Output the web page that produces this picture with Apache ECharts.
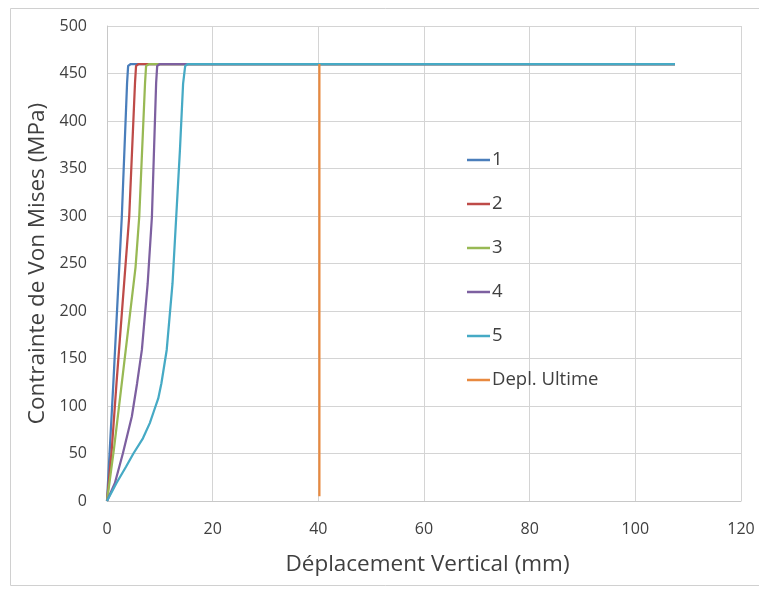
<!DOCTYPE html>
<html>
<head>
<meta charset="utf-8">
<script src="https://cdn.jsdelivr.net/npm/echarts@6/dist/echarts.min.js"></script>
<style>html,body{margin:0;padding:0;background:#fff;}#c{width:759px;height:590px;}</style>
</head>
<body>
<div id="c"></div>
<script>
var seriesNames = ['1', '2', '3', '4', '5', 'Depl. Ultime'];
var s1x = [0, 1.2, 2.8, 3.8, 4.0, 4.5, 107.5];
var s1y = [0, 124, 299, 440, 458, 460, 460];
var s2x = [0, 0.9, 1.8, 4.2, 5.3, 5.5, 6.0, 107.5];
var s2y = [0, 54, 124, 299, 440, 458, 460, 460];
var s3x = [0, 1.3, 2.8, 5.4, 6.1, 7.2, 7.4, 8.0, 107.5];
var s3y = [0, 54, 124, 246, 299, 440, 458, 460, 460];
var s4x = [0, 1.5, 3.0, 4.7, 5.7, 6.6, 7.7, 8.5, 9.3, 9.5, 10.0, 107.5];
var s4y = [0, 19, 50, 89, 124, 159, 229, 299, 440, 458, 460, 460];
var s5x = [0, 1.8, 3.6, 5.0, 6.8, 8.1, 8.9, 9.7, 10.3, 11.3, 12.4, 13.1, 13.8, 14.4, 14.8, 15.3, 107.5];
var s5y = [0, 19, 36, 50, 66, 82, 95, 108, 124, 159, 229, 299, 369, 439, 458, 460, 460];
var s6x = [40.2, 40.2];
var s6y = [5, 460];
var xTicks = [0, 20, 40, 60, 80, 100, 120];
var yTicks = [0, 50, 100, 150, 200, 250, 300, 350, 400, 450, 500];
var colors = ['#4A7EBB', '#BE4B48', '#98B954', '#7D60A0', '#46AAC5', '#E8893F'];

function pairs(xs, ys) { return xs.map(function (x, i) { return [x, ys[i]]; }); }
var allX = [s1x, s2x, s3x, s4x, s5x, s6x];
var allY = [s1y, s2y, s3y, s4y, s5y, s6y];

var font = '"Open Sans", "Noto Sans", sans-serif';
var chart = echarts.init(document.getElementById('c'), null, {renderer: 'canvas'});
chart.setOption({
  animation: false,
  backgroundColor: '#fff',
  color: colors,
  graphic: [{
    type: 'rect', silent: true, z: -10,
    shape: {x: 10.5, y: 8.5, width: 760, height: 577},
    style: {fill: 'none', stroke: '#d0d0d0', lineWidth: 1}
  }],
  grid: {left: 107, right: 18, top: 26, bottom: 89, containLabel: false},
  legend: {
    orient: 'vertical', left: 467, top: 150, padding: 0,
    icon: 'rect', itemWidth: 23, itemHeight: 2.5, itemGap: 24,
    data: seriesNames,
    textStyle: {fontFamily: font, fontSize: 18.5, color: '#404040', lineHeight: 20, padding: [0, 0, 0, -3]}
  },
  xAxis: {
    type: 'value', min: xTicks[0], max: xTicks[xTicks.length - 1], interval: 20,
    name: 'Déplacement Vertical (mm)', nameLocation: 'middle', nameGap: 52,
    nameTextStyle: {fontFamily: font, fontSize: 22.5, color: '#404040', padding: [0, 0, 0, 7]},
    axisLine: {show: true, lineStyle: {color: '#c8c8c8', width: 1}},
    axisTick: {show: false},
    axisLabel: {fontFamily: font, fontSize: 16, color: '#404040', margin: 20},
    splitLine: {show: true, lineStyle: {color: '#d4d4d4', width: 1}}
  },
  yAxis: {
    type: 'value', min: yTicks[0], max: yTicks[yTicks.length - 1], interval: 50,
    name: 'Contrainte de Von Mises (MPa)', nameLocation: 'middle', nameGap: 56,
    nameTextStyle: {fontFamily: font, fontSize: 22.5, color: '#404040'},
    axisLine: {show: true, lineStyle: {color: '#c8c8c8', width: 1}},
    axisTick: {show: false},
    axisLabel: {fontFamily: font, fontSize: 16, color: '#404040', margin: 20},
    splitLine: {show: true, lineStyle: {color: '#d4d4d4', width: 1}}
  },
  series: seriesNames.map(function (n, i) {
    return {
      name: n, type: 'line', data: pairs(allX[i], allY[i]),
      symbol: 'none', smooth: false,
      lineStyle: {width: 2.25, color: colors[i]},
      itemStyle: {color: colors[i]}
    };
  })
});
</script>
</body>
</html>
